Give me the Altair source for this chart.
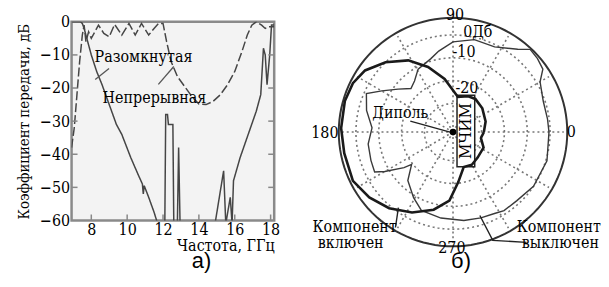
import altair as alt
import pandas as pd

SERIF = "DejaVu Serif Condensed"
SANS = "Liberation Sans"

# ---------------- panel a) : transmission vs frequency ----------------
open_name = "Разомкнутая"
cont_name = "Непрерывная"

open_freq = [6.9, 7.4, 7.5, 7.6, 7.75, 8.0, 8.3, 8.6, 9.0, 9.4, 9.7, 10.2, 10.6, 10.85, 10.9, 10.95,
             11.2, 11.5, 11.7, 12.1, 12.15, 12.25, 12.3, 12.55, 12.6, 12.8, 12.87, 12.95,
             14.9, 15.38, 15.5, 15.75, 15.85, 15.93, 16.3, 16.75, 17.2, 17.45, 17.6, 17.7,
             17.8, 17.95, 18.05, 18.2]
open_db = [0, 0, -0.5, -2, -5, -10, -15, -19, -25, -31, -34, -41, -46, -49, -52, -49.5,
           -53, -57.5, -61, -61, -28, -28, -31, -31, -61, -61, -38, -61,
           -61, -45, -61, -53, -61, -48, -41, -34, -27, -22, -8, -10,
           -19, -10, -1, -1]

cont_freq = [6.9, 7.05, 7.2, 7.35, 7.5, 7.6, 7.7, 7.85, 8.0, 8.4, 8.7, 9.0, 9.3, 9.7, 10.1,
             10.45, 10.8, 11.2, 11.5, 11.75, 12.0, 12.2, 12.45, 12.8, 13.2, 13.6, 14.0, 14.4,
             14.8, 15.2, 15.6, 16.0, 16.4, 16.7, 16.95, 17.2, 17.5, 17.7, 17.9, 18.2]
cont_db = [-38, -32, -22, -12, -4, -1, -6, -3, -5, -1, -3.5, -4.5, -0.8, -4, -0.5,
           -4, -0.5, -4, -2, -0.5, -0.5, -6, -12, -16.5, -19.5, -22.5, -24.8, -25,
           -24, -22, -19, -15, -9, -4, -1, 0, -1, -2, -1.5, -1.5]

y_ticks = [0, -10, -20, -30, -40, -50, -60]
y_inner_ticks = [-10, -20, -30, -40, -50]
x_ticks = [8, 10, 12, 14, 16, 18]

a_labels = [open_name, cont_name]
a_label_f = [10.91, 11.52]
a_label_db = [-10.5, -23.1]
a_lead_id = [0, 0, 1, 1]
a_lead_f = [8.99, 8.22, 11.74, 12.6]
a_lead_db = [-14.1, -17.4, -18.9, -13.5]
a_caption = "а)"
a_caption_f = 14.15
a_caption_db = -72.2

# ---------------- panel b) : polar pattern ----------------
on_angle = [0, 18, 39, 56, 67, 82, 99, 111, 122, 134, 145, 154, 164, 178, 191, 206, 218, 230,
            243, 256, 267, 276, 287, 300, 314, 333, 348, 360]
on_r = [0.27, 0.30, 0.33, 0.35, 0.34, 0.31, 0.47, 0.61, 0.74, 0.85, 0.94, 0.975, 0.985, 0.98,
        0.97, 0.975, 0.93, 0.87, 0.79, 0.70, 0.60, 0.44, 0.32, 0.33, 0.31, 0.30, 0.25, 0.27]

off_angle = [0, 8, 19, 30, 35, 41, 47, 52, 64, 77, 90, 100, 107, 119, 127, 134, 142, 150, 156,
             166, 177, 188, 199, 207, 210, 216, 218, 227, 239, 248, 262, 277, 288, 297, 303,
             313, 326, 343, 360]
off_r = [0.84, 0.835, 0.835, 0.88, 0.96, 0.98, 0.99, 0.92, 0.83, 0.83, 0.79, 0.72, 0.67, 0.63,
         0.56, 0.53, 0.61, 0.72, 0.83, 0.78, 0.71, 0.75, 0.76, 0.77, 0.69, 0.53, 0.46, 0.58,
         0.67, 0.74, 0.76, 0.78, 0.79, 0.80, 0.82, 0.82, 0.85, 0.86, 0.84]

grid_r = [0.25, 0.45, 0.65, 0.85]
outer_r = 1.0
spoke_angles = [0, 30, 60, 90, 120, 150, 180, 210, 240, 270, 300, 330]
spoke_len = 0.97
circle_steps = list(range(0, 361, 3))

b_text = ["90", "0Дб", "-10", "-20", "0", "180", "270", "Диполь",
          "Компонент", "включен", "Компонент", "выключен"]
b_text_x = [0.017, 0.217, 0.096, 0.122, 1.035, -1.122, -0.01, -0.461,
            -0.861, -0.896, 0.926, 0.94]
b_text_y = [1.02, 0.878, 0.704, 0.383, 0.0, -0.01, -1.017, 0.165,
            -0.835, -0.974, -0.835, -0.974]
b_lead_id = [0, 0, 1, 1, 1, 2, 2]
b_lead_x = [-0.504, -0.478, 0.235, 0.348, 0.643, -0.374, -0.026]
b_lead_y = [-0.835, -0.661, -0.73, -0.948, -0.965, 0.096, 0.0]
box_x = [0.035, 0.19]
box_y = [-0.304, 0.322]
box_label = "МЧИМ"
b_caption = "б)"
b_caption_x = 0.07
b_caption_y = -1.13

# ================= build panel a =================
df_a = pd.DataFrame({
    "f": open_freq + cont_freq,
    "db": open_db + cont_db,
    "s": [open_name] * len(open_freq) + [cont_name] * len(cont_freq),
    "i": list(range(len(open_freq))) + list(range(len(cont_freq))),
})
xs = alt.Scale(domain=[6.9, 18.2], nice=False, zero=False)
ys = alt.Scale(domain=[-60, 0], nice=False, zero=False)
WA, HA = 204, 200

ax_x = alt.Axis(
    values=x_ticks, title="Частота, ГГц", grid=False, ticks=False, domain=False,
    labelFont=SERIF, labelFontSize=16, labelColor="black", labelPadding=1,
    labelOverlap=False,
    titleFont=SERIF, titleFontSize=16, titleFontWeight="normal", titleColor="black",
    titleAnchor="end", titlePadding=0)
ax_y = alt.Axis(
    values=y_ticks, title="Коэффициент передачи, дБ", grid=False, ticks=False, domain=False,
    labelFont=SERIF, labelFontSize=16, labelColor="black", labelPadding=2,
    labelOverlap=False,
    titleFont=SERIF, titleFontSize=15, titleFontWeight="normal", titleColor="black",
    titlePadding=8)


def fx(field="f"):
    return alt.X(f"{field}:Q", scale=xs, axis=ax_x)


def fy(field="db"):
    return alt.Y(f"{field}:Q", scale=ys, axis=ax_y)


lines = alt.Chart(df_a).mark_line(clip=True, strokeWidth=1.5, color="#454545").encode(
    x=fx(), y=fy(),
    strokeDash=alt.StrokeDash("s:N", scale=alt.Scale(domain=[open_name, cont_name],
                                                     range=[[1, 0], [9, 3]]), legend=None),
    detail="s:N",
    order="i:Q",
)

ytick_df = pd.DataFrame({"db": y_inner_ticks})
left_ticks = alt.Chart(ytick_df).mark_rule(color="#888", strokeWidth=1.5).encode(
    y=fy(), x=alt.value(0), x2=alt.value(6))
right_ticks = alt.Chart(ytick_df).mark_rule(color="#888", strokeWidth=1.5).encode(
    y=fy(), x=alt.value(WA - 6), x2=alt.value(WA))
xtick_df = pd.DataFrame({"f": x_ticks})
bottom_ticks = alt.Chart(xtick_df).mark_rule(color="#888", strokeWidth=1.5).encode(
    x=fx(), y=alt.value(HA - 6), y2=alt.value(HA))

lab_df = pd.DataFrame({"f": a_label_f, "db": a_label_db, "t": a_labels})
labels_a = alt.Chart(lab_df).mark_text(font=SERIF, fontSize=16, color="black").encode(
    x=fx(), y=fy(), text="t:N")
lead_df = pd.DataFrame({"id": a_lead_id, "f": a_lead_f, "db": a_lead_db})
leads_a = alt.Chart(lead_df).mark_line(color="#555", strokeWidth=1.3).encode(
    x=fx(), y=fy(), detail="id:N")
cap_a = alt.Chart(pd.DataFrame({"f": [a_caption_f], "db": [a_caption_db], "t": [a_caption]})).mark_text(
    font=SANS, fontSize=22, color="black").encode(x=fx(), y=fy(), text="t:N")

panel_a = alt.layer(lines, left_ticks, right_ticks, bottom_ticks, leads_a, labels_a, cap_a).properties(
    width=WA, height=HA,
    view=alt.ViewBackground(fill="#f3f3f3", stroke="#8a8a8a", strokeWidth=2.5))

# ================= build panel b =================
XMIN, XMAX = -1.287, 1.278
YMIN, YMAX = -1.017, 0.965
PPU = 115
WB = round((XMAX - XMIN) * PPU)
HB = round((YMAX - YMIN) * PPU)
xsb = alt.Scale(domain=[XMIN, XMAX], nice=False, zero=False)
ysb = alt.Scale(domain=[YMIN, YMAX], nice=False, zero=False)
XC = "datum.r*cos(datum.a*PI/180)"
YC = "datum.r*sin(datum.a*PI/180)"


def xy(ch):
    return ch.encode(x=alt.X("x:Q", scale=xsb, axis=None), y=alt.Y("y:Q", scale=ysb, axis=None))


ring_rows = [{"ring": k, "r": rr, "a": a, "i": j} for k, rr in enumerate(grid_r)
             for j, a in enumerate(circle_steps)]
rings = xy(alt.Chart(pd.DataFrame(ring_rows)).transform_calculate(x=XC, y=YC).mark_line(
    color="#777", strokeWidth=1.6, strokeDash=[2, 3])).encode(detail="ring:N", order="i:Q")

spoke_df = pd.DataFrame({"a": spoke_angles, "r": [spoke_len] * len(spoke_angles)})
spokes = alt.Chart(spoke_df).transform_calculate(x2=XC, y2=YC, x0="0", y0="0").mark_rule(
    color="#777", strokeWidth=1.6, strokeDash=[2, 3]).encode(
    x=alt.X("x0:Q", scale=xsb, axis=None), y=alt.Y("y0:Q", scale=ysb, axis=None),
    x2="x2:Q", y2="y2:Q")

outer_df = pd.DataFrame({"a": circle_steps, "r": [outer_r] * len(circle_steps),
                         "i": list(range(len(circle_steps)))})
outer = xy(alt.Chart(outer_df).transform_calculate(x=XC, y=YC).mark_line(
    color="#333", strokeWidth=2)).encode(order="i:Q")

box = alt.Chart(pd.DataFrame({"x": [box_x[0]], "x2": [box_x[1]], "y": [box_y[0]], "y2": [box_y[1]]})).mark_rect(
    fill="white", stroke="#222", strokeWidth=1.5).encode(
    x=alt.X("x:Q", scale=xsb, axis=None), x2="x2:Q", y=alt.Y("y:Q", scale=ysb, axis=None), y2="y2:Q")
box_text = alt.Chart(pd.DataFrame({"x": [sum(box_x) / 2], "y": [sum(box_y) / 2], "t": [box_label]})).mark_text(
    font=SERIF, fontSize=17, angle=270, color="black").encode(
    x=alt.X("x:Q", scale=xsb, axis=None), y=alt.Y("y:Q", scale=ysb, axis=None), text="t:N")

off_df = pd.DataFrame({"a": off_angle, "r": off_r, "i": list(range(len(off_angle)))})
off_line = xy(alt.Chart(off_df).transform_calculate(x=XC, y=YC).mark_line(
    color="#3a3a3a", strokeWidth=1.4)).encode(order="i:Q")
on_df = pd.DataFrame({"a": on_angle, "r": on_r, "i": list(range(len(on_angle)))})
on_line = xy(alt.Chart(on_df).transform_calculate(x=XC, y=YC).mark_line(
    color="#1a1a1a", strokeWidth=2.6)).encode(order="i:Q")

blead_df = pd.DataFrame({"id": b_lead_id, "x": b_lead_x, "y": b_lead_y})
leads_b = xy(alt.Chart(blead_df).mark_line(color="#222", strokeWidth=1.4)).encode(detail="id:N")
dot = xy(alt.Chart(pd.DataFrame({"x": [0.0], "y": [0.0]})).mark_point(
    filled=True, size=45, color="black", opacity=1))

btext_df = pd.DataFrame({"x": b_text_x, "y": b_text_y, "t": b_text})
texts_b = xy(alt.Chart(btext_df).mark_text(font=SERIF, fontSize=16, color="black")).encode(text="t:N")
cap_b = xy(alt.Chart(pd.DataFrame({"x": [b_caption_x], "y": [b_caption_y], "t": [b_caption]})).mark_text(
    font=SANS, fontSize=22, color="black")).encode(text="t:N")

panel_b = alt.layer(rings, spokes, outer, box, off_line, on_line, box_text, leads_b, dot,
                    texts_b, cap_b).properties(
    width=WB, height=HB, view=alt.ViewBackground(strokeOpacity=0))

chart = alt.hconcat(panel_a, panel_b, spacing=32, bounds="flush").properties(
    padding={"left": 7, "top": -2, "right": 0, "bottom": 0},
    background="white",
).configure_view(strokeWidth=0)

chart.save("out.html", embed_options={"renderer": "svg", "actions": False})
